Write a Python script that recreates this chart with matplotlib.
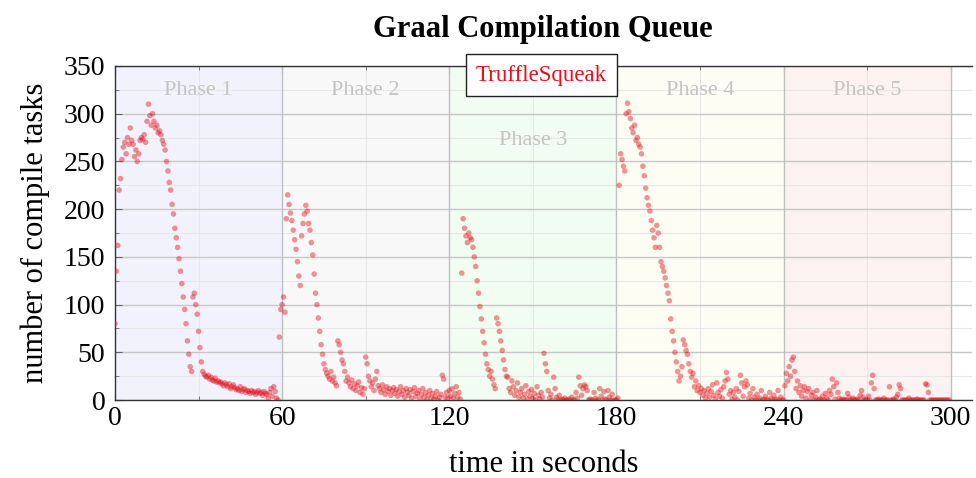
"""
Graal compilation queue length over time for TruffleSqueak, split into
five benchmark phases. Saves out.png.
"""

import matplotlib

matplotlib.use("Agg")
import matplotlib.pyplot as plt
import numpy as np
from matplotlib.lines import Line2D
from matplotlib.ticker import MultipleLocator


# ============================================================================
# Data (queue length sampled every 0.5 s, read off the reference)
# ============================================================================

SAMPLE_STEP = 0.5
PHASE_LENGTH = 60

PHASE_NAMES = ["Phase 1", "Phase 2", "Phase 3", "Phase 4", "Phase 5"]
PHASE_COLORS = ["#f2f2fd", "#f8f8f8", "#f0fdf0", "#fdfdf3", "#fdf2f2"]
PHASE_LABEL_Y = [324, 324, 272, 324, 324]

PHASE1_TASKS = [
    80, 135, 162, 220, 232, 252, 265, 270, 258, 275,
    268, 285, 272, 268, 255, 262, 250, 258, 272, 275,
    273, 278, 270, 292, 310, 298, 288, 300, 292, 285,
    288, 280, 282, 278, 272, 268, 262, 250, 240, 228,
    220, 205, 195, 180, 170, 160, 148, 135, 122, 108,
    95, 80, 62, 48, 35, 30, 108, 112, 100, 90,
    72, 55, 40, 30, 27, 25, 24, 26, 22, 24,
    21, 20, 23, 19, 20, 18, 19, 17, 15, 18,
    16, 14, 17, 12, 14, 16, 13, 11, 12, 10,
    14, 9, 11, 12, 8, 10, 9, 7, 10, 8,
    9, 6, 8, 10, 7, 8, 5, 9, 7, 6,
    2, 8, 12, 4, 14, 9, 2, 0, 66, 95,
]

PHASE2_TASKS = [
    100, 108, 92, 190, 215, 205, 196, 188, 178, 168,
    158, 145, 130, 120, 172, 185, 195, 204, 198, 185,
    178, 165, 152, 132, 112, 100, 86, 72, 58, 48,
    38, 32, 28, 25, 22, 30, 20, 24, 18, 15,
    62, 58, 50, 42, 38, 30, 20, 24, 18, 14,
    21, 12, 17, 10, 15, 19, 8, 13, 6, 12,
    45, 38, 25, 20, 14, 18, 10, 22, 30, 15,
    12, 8, 16, 11, 6, 14, 9, 12, 5, 10,
    13, 7, 11, 4, 9, 14, 6, 10, 3, 12,
    8, 5, 11, 2, 9, 13, 4, 7, 10, 1,
    6, 12, 3, 8, 0, 5, 10, 2, 7, 1,
    4, 9, 0, 3, 6, 26, 22, 3, 8, 2,
]

PHASE3_TASKS = [
    10, 4, 12, 2, 7, 14, 3, 8, 1, 133,
    190, 180, 172, 165, 175, 170, 168, 160, 150, 140,
    125, 112, 98, 85, 72, 60, 48, 38, 32, 25,
    30, 22, 16, 12, 86, 80, 72, 62, 52, 42,
    32, 25, 24, 12, 8, 20, 14, 5, 10, 18,
    3, 8, 12, 2, 6, 15, 1, 9, 4, 11,
    2, 7, 0, 14, 5, 1, 8, 3, 49, 38,
    30, 10, 2, 6, 0, 24, 12, 3, 0, 5,
    0, 1, 0, 2, 0, 0, 1, 0, 3, 0,
    0, 8, 2, 24, 15, 5, 12, 16, 14, 10,
    0, 1, 0, 0, 8, 2, 0, 0, 12, 4,
    0, 9, 1, 0, 10, 3, 0, 6, 0, 0,
]

PHASE4_TASKS = [
    0, 2, 225, 258, 252, 245, 240, 300, 311, 302,
    295, 285, 280, 288, 272, 275, 268, 265, 258, 245,
    235, 222, 212, 204, 198, 188, 178, 170, 160, 183,
    175, 160, 145, 140, 135, 128, 120, 112, 104, 85,
    72, 62, 50, 40, 30, 20, 25, 35, 63, 58,
    52, 48, 38, 30, 24, 28, 14, 20, 10, 15,
    8, 12, 5, 10, 2, 7, 12, 3, 9, 16,
    5, 1, 18, 8, 4, 11, 2, 14, 20, 29,
    22, 6, 10, 1, 8, 3, 12, 0, 9, 26,
    18, 4, 14, 20, 16, 2, 7, 0, 12, 3,
    0, 6, 0, 2, 10, 0, 1, 4, 0, 0,
    8, 2, 0, 5, 0, 1, 10, 0, 3, 0,
]

PHASE5_TASKS = [
    0, 15, 28, 20, 35, 25, 42, 45, 30, 12,
    20, 8, 15, 4, 10, 14, 2, 9, 12, 0,
    5, 8, 0, 3, 10, 0, 1, 0, 4, 0,
    7, 2, 0, 10, 6, 22, 14, 1, 18, 8,
    2, 0, 0, 1, 0, 0, 7, 3, 0, 0,
    2, 0, 0, 1, 0, 5, 10, 3, 0, 0,
    0, 4, 0, 18, 26, 12, 0, 0, 1, 0,
    0, 0, 2, 0, 0, 0, 14, 0, 0, 1,
    0, 3, 6, 16, 12, 0, 0, 0, 0, 0,
    2, 0, 0, 0, 0, 0, 1, 0, 0, 0,
    0, 0, 17, 16, 8, 0, 0, 0, 0, 0,
    0, 0, 0, 0, 0, 0, 0, 0, 0, 0,
]

SERIES_LABEL = "TruffleSqueak"
SERIES_COLOR = "#e3121b"

FONT = ["Liberation Serif", "DejaVu Serif"]


# ============================================================================
# Plotting
# ============================================================================

def build_series():
    tasks = np.concatenate([
        PHASE1_TASKS, PHASE2_TASKS, PHASE3_TASKS, PHASE4_TASKS, PHASE5_TASKS,
    ]).astype(float)
    times = np.arange(len(tasks)) * SAMPLE_STEP
    return times, tasks


def plot_queue(times, tasks):
    plt.rcParams["font.family"] = FONT
    fig = plt.figure(figsize=(9.76, 4.78), dpi=100)
    ax = fig.add_axes([0.1178, 0.163, 0.8777, 0.699])

    for i, (name, color) in enumerate(zip(PHASE_NAMES, PHASE_COLORS)):
        start = i * PHASE_LENGTH
        ax.axvspan(start, start + PHASE_LENGTH, color=color, zorder=0, lw=0)
        ax.text(start + PHASE_LENGTH / 2, PHASE_LABEL_Y[i], name,
                ha="center", va="center", fontsize=16, color="#c4c4c4", zorder=1)
        ax.axvline(start + PHASE_LENGTH, color="#c0c0c0", lw=1.0, zorder=1)

    ax.scatter(times, tasks, s=16, color=SERIES_COLOR, alpha=0.45,
               edgecolors="none", zorder=3)

    ax.set_xlim(0, 307.5)
    ax.set_ylim(0, 350)
    ax.xaxis.set_major_locator(MultipleLocator(60))
    ax.xaxis.set_minor_locator(MultipleLocator(30))
    ax.yaxis.set_major_locator(MultipleLocator(50))
    ax.yaxis.set_minor_locator(MultipleLocator(25))
    ax.grid(True, which="major", axis="y", color="#c6c6c6", lw=1.0, zorder=1)
    ax.grid(True, which="minor", color="#e8e8e8", lw=0.8, zorder=1)
    ax.set_axisbelow(True)

    ax.tick_params(axis="both", which="both", direction="in", top=True,
                   labelsize=20, color="#666666")
    ax.tick_params(axis="both", which="major", length=5)
    ax.tick_params(axis="y", which="major", pad=7)
    ax.tick_params(axis="x", which="major", pad=4)
    ax.tick_params(axis="both", which="minor", length=3)
    ax.spines["right"].set_visible(False)
    for side in ["left", "bottom", "top"]:
        ax.spines[side].set_color("#333333")
        ax.spines[side].set_linewidth(1.0)

    ax.set_xlabel("time in seconds", fontsize=22, labelpad=14)
    ax.set_ylabel("number of compile tasks", fontsize=22, labelpad=10)
    ax.set_title("Graal Compilation Queue", fontsize=22, fontweight="bold", pad=21)

    handle = Line2D([], [], linestyle="none", marker=None)
    legend = ax.legend([handle], [SERIES_LABEL], loc="upper center",
                       bbox_to_anchor=(0.498, 1.035), handlelength=0,
                       handletextpad=0, fontsize=16.5, fancybox=False,
                       framealpha=1, edgecolor="#222222", borderpad=0.45,
                       borderaxespad=0)
    legend.get_frame().set_linewidth(1.0)
    legend.set_zorder(5)
    for text in legend.get_texts():
        text.set_color(SERIES_COLOR)

    fig.savefig("out.png", dpi=100)
    plt.close(fig)


def main():
    times, tasks = build_series()
    plot_queue(times, tasks)


if __name__ == "__main__":
    main()
